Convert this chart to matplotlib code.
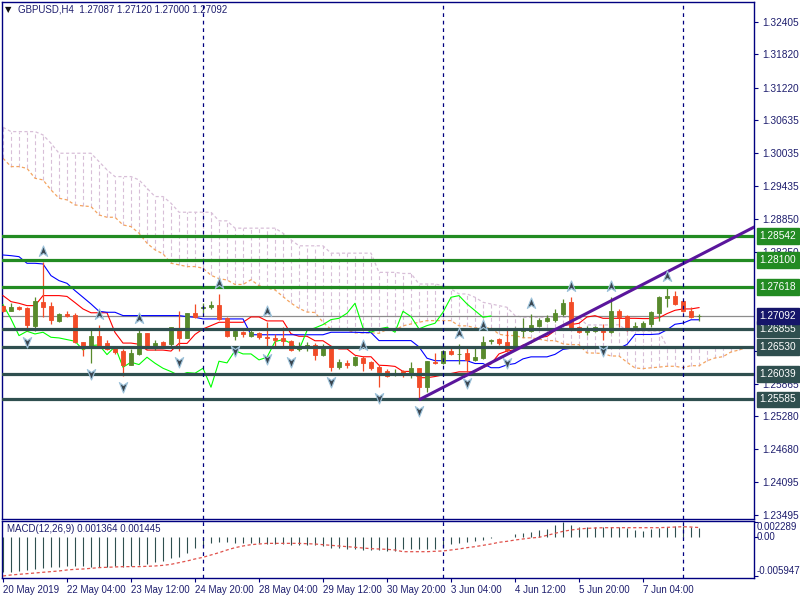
import numpy as np
import matplotlib
matplotlib.use("Agg")
import matplotlib.pyplot as plt
from matplotlib.path import Path
from matplotlib import transforms

# ---------------- data ----------------
symbol_title = "GBPUSD,H4"
last_ohlc = ["1.27087", "1.27120", "1.27000", "1.27092"]

opens = [1.27279, 1.27189, 1.27261, 1.27231, 1.26912, 1.27351, 1.27279, 1.27008, 1.27135, 1.27117,
         1.26617, 1.26527, 1.26737, 1.26599, 1.26527, 1.26454, 1.26214, 1.26406, 1.26779, 1.26539,
         1.26617, 1.26587, 1.26876, 1.26695, 1.27141, 1.27231, 1.27249, 1.27297, 1.27056, 1.26737,
         1.26798, 1.26737, 1.26785, 1.26719, 1.26695, 1.26689, 1.26647, 1.26490, 1.26539, 1.26575,
         1.26394, 1.26539, 1.26165, 1.26238, 1.26214, 1.26334, 1.26256, 1.26165, 1.26105, 1.26033,
         1.26093, 1.26045, 1.26147, 1.25804, 1.26256, 1.26238, 1.26466, 1.26400, 1.26418, 1.26298,
         1.26334, 1.26635, 1.26677, 1.26617, 1.26497, 1.26816, 1.26828, 1.26918, 1.27008, 1.27026,
         1.27129, 1.27339, 1.26900, 1.26798, 1.26828, 1.26876, 1.26798, 1.27189, 1.27099, 1.26888,
         1.26900, 1.26948, 1.27141, 1.27418, 1.27460, 1.27369, 1.27189, 1.27087]
highs = [1.27297, 1.27321, 1.27273, 1.27249, 1.27442, 1.28062, 1.27351, 1.27141, 1.27189, 1.27147,
         1.26629, 1.26876, 1.26936, 1.26659, 1.26545, 1.26497, 1.26497, 1.26858, 1.26790, 1.26659,
         1.26647, 1.26900, 1.27177, 1.27147, 1.27309, 1.27321, 1.27369, 1.27490, 1.27080, 1.26840,
         1.26828, 1.26840, 1.26798, 1.26990, 1.26767, 1.26888, 1.26659, 1.26617, 1.26617, 1.26599,
         1.26587, 1.26557, 1.26316, 1.26298, 1.26360, 1.26376, 1.26286, 1.26214, 1.26135, 1.26135,
         1.26117, 1.26256, 1.26153, 1.26286, 1.26418, 1.26478, 1.26527, 1.26587, 1.26515, 1.26505,
         1.26737, 1.26677, 1.26695, 1.26840, 1.26888, 1.27056, 1.27129, 1.27056, 1.27117, 1.27219,
         1.27400, 1.27440, 1.26918, 1.26918, 1.26918, 1.26948, 1.27430, 1.27219, 1.27105, 1.26990,
         1.27008, 1.27189, 1.27460, 1.27610, 1.27538, 1.27375, 1.27261, 1.27120]
lows = [1.27165, 1.27177, 1.27201, 1.26828, 1.26828, 1.27068, 1.26948, 1.26978, 1.27080, 1.26605,
        1.26376, 1.26238, 1.26539, 1.26478, 1.26406, 1.26015, 1.26208, 1.26394, 1.26497, 1.26478,
        1.26557, 1.26557, 1.26466, 1.26689, 1.27056, 1.27141, 1.27219, 1.27020, 1.26719, 1.26659,
        1.26707, 1.26707, 1.26677, 1.26515, 1.26527, 1.26557, 1.26460, 1.26466, 1.26466, 1.26298,
        1.26376, 1.26105, 1.26135, 1.26153, 1.26196, 1.26093, 1.26117, 1.25804, 1.25985, 1.26015,
        1.25985, 1.25973, 1.25577, 1.25714, 1.26226, 1.26226, 1.26394, 1.26226, 1.26075, 1.26274,
        1.26316, 1.26587, 1.26575, 1.26436, 1.26478, 1.26707, 1.26798, 1.26888, 1.26978, 1.26978,
        1.27099, 1.26858, 1.26779, 1.26755, 1.26798, 1.26659, 1.26779, 1.26900, 1.26828, 1.26876,
        1.26876, 1.26900, 1.26996, 1.27249, 1.27297, 1.27159, 1.27056, 1.27000]
closes = [1.27177, 1.27261, 1.27213, 1.26930, 1.27357, 1.27261, 1.27020, 1.27135, 1.27099, 1.26617,
          1.26527, 1.26737, 1.26557, 1.26497, 1.26436, 1.26214, 1.26418, 1.26779, 1.26539, 1.26599,
          1.26575, 1.26888, 1.26695, 1.27141, 1.27068, 1.27261, 1.27297, 1.27038, 1.26737, 1.26816,
          1.26767, 1.26798, 1.26707, 1.26695, 1.26665, 1.26635, 1.26478, 1.26557, 1.26569, 1.26394,
          1.26539, 1.26165, 1.26256, 1.26214, 1.26346, 1.26238, 1.26147, 1.26087, 1.26015, 1.26069,
          1.26057, 1.26147, 1.25804, 1.26274, 1.26244, 1.26466, 1.26406, 1.26406, 1.26298, 1.26346,
          1.26629, 1.26665, 1.26599, 1.26478, 1.26828, 1.26876, 1.26936, 1.27026, 1.27050, 1.27141,
          1.27321, 1.26876, 1.26798, 1.26858, 1.26888, 1.26798, 1.27177, 1.27080, 1.26858, 1.26918,
          1.26960, 1.27159, 1.27430, 1.27460, 1.27309, 1.27189, 1.27068, 1.27092]

# Ichimoku values visible at the left edge (their history is off-chart)
tenkan_head = [1.27460, 1.27351, 1.27321, 1.27279, 1.27279, 1.27460, 1.27460, 1.27460]
kijun_head = [1.28194, 1.28182, 1.28164, 1.28044, 1.28044, 1.28032, 1.27821, 1.27731, 1.27682, 1.27550,
              1.27430, 1.27309, 1.27177, 1.27159, 1.27159, 1.27099, 1.27099, 1.27099, 1.27099, 1.27099,
              1.27099, 1.27099, 1.27099, 1.27080, 1.27068]
span_a_head = [1.29942, 1.29792, 1.29792, 1.29760, 1.29581, 1.29551, 1.29370, 1.29220, 1.29190, 1.29099,
               1.29081, 1.29069, 1.28918, 1.28876, 1.28876, 1.28737, 1.28707, 1.28588, 1.28407, 1.28287,
               1.28215, 1.28046, 1.28016, 1.27985, 1.27985, 1.27955]
span_b_head = [1.30502, 1.30424, 1.30424, 1.30424, 1.30424, 1.30364, 1.30213, 1.30033, 1.30033, 1.30033,
               1.30033, 1.30033, 1.29882, 1.29732, 1.29611, 1.29611, 1.29611, 1.29551, 1.29401, 1.29250,
               1.29250, 1.29130, 1.28967, 1.28967, 1.28967, 1.28967, 1.28967, 1.28811, 1.28811, 1.28679,
               1.28679, 1.28679, 1.28679, 1.28679, 1.28679, 1.28588, 1.28468, 1.28360, 1.28360, 1.28360,
               1.28360, 1.28227, 1.28227, 1.28227, 1.28227, 1.28227, 1.28227, 1.27880, 1.27880, 1.27880,
               1.27860, 1.27860, 1.27670, 1.27670, 1.27670, 1.27640, 1.27580, 1.27490, 1.27490, 1.27430,
               1.27339, 1.27309, 1.27279, 1.27249, 1.27099, 1.27068, 1.27068, 1.27068, 1.27068, 1.27068,
               1.27068, 1.27068, 1.27068, 1.26930, 1.26930, 1.26930, 1.26930]

up_fractals = [5, 12, 17, 27, 33, 45, 57, 60, 66, 71, 76, 83]
down_fractals = [3, 11, 15, 22, 29, 33, 36, 41, 47, 52, 58, 63, 75]

macd_hist = [-0.005380, -0.00528, -0.00518, -0.00503, -0.00493, -0.00478, -0.00462, -0.00452, -0.00442, -0.00437,
             -0.00442, -0.00452, -0.00452, -0.00452, -0.00442, -0.00452, -0.00437, -0.00427, -0.00411, -0.00386,
             -0.00361, -0.00325, -0.00300, -0.00239, -0.00173, -0.00132, -0.00097, -0.00081, -0.00081, -0.00097,
             -0.00097, -0.00097, -0.00097, -0.00112, -0.00112, -0.00112, -0.00122, -0.00122, -0.00122, -0.00122,
             -0.00137, -0.00173, -0.00173, -0.00183, -0.00188, -0.00198, -0.00198, -0.00198, -0.00213, -0.00213,
             -0.00183, -0.00183, -0.00183, -0.00183, -0.00183, -0.00147, -0.00112, -0.00097, -0.00081, -0.00061,
             -0.00046, -0.00020, -0.00005, 0.00005, 0.00041, 0.00056, 0.00081, 0.00107, 0.00122, 0.00190,
             0.002289, 0.00183, 0.00157, 0.00147, 0.00147, 0.00147, 0.00147, 0.00147, 0.00132, 0.00107,
             0.00097, 0.00122, 0.00132, 0.00157, 0.00173, 0.00173, 0.00157, 0.001364]
macd_signal = [-0.005947, -0.00579, -0.00569, -0.00559, -0.00549, -0.00538, -0.00528, -0.00518, -0.00503, -0.00493,
               -0.00488, -0.00478, -0.00467, -0.00462, -0.00457, -0.00452, -0.00452, -0.00452, -0.00447, -0.00442,
               -0.00432, -0.00417, -0.00391, -0.00366, -0.00335, -0.00310, -0.00274, -0.00239, -0.00198, -0.00163,
               -0.00137, -0.00117, -0.00107, -0.00097, -0.00097, -0.00097, -0.00097, -0.00097, -0.00102, -0.00107,
               -0.00117, -0.00127, -0.00137, -0.00147, -0.00157, -0.00168, -0.00178, -0.00183, -0.00188, -0.00198,
               -0.00224, -0.00224, -0.00224, -0.00224, -0.00218, -0.00213, -0.00198, -0.00183, -0.00163, -0.00147,
               -0.00127, -0.00107, -0.00081, -0.00066, -0.00046, -0.00030, -0.00015, -0.00005, 0.00025, 0.00056,
               0.00086, 0.00107, 0.00122, 0.00132, 0.00137, 0.00142, 0.00142, 0.00142, 0.00142, 0.00142,
               0.00142, 0.00142, 0.00142, 0.00147, 0.00152, 0.00157, 0.00152, 0.001445]

green_levels = [1.28542, 1.28100, 1.27618]
slate_levels = [1.26855, 1.26530, 1.26039, 1.25585]
current_price = 1.27092

trend_p1 = (52, 1.25577)
trend_p2 = (88, 1.28260)

separators = [25, 55, 85]
date_tick_bars = [0, 8, 16, 24, 32, 40, 48, 56, 64, 72, 80]
date_labels = ["20 May 2019", "22 May 04:00", "23 May 12:00", "24 May 20:00", "28 May 04:00",
               "29 May 12:00", "30 May 20:00", "3 Jun 04:00", "4 Jun 12:00", "5 Jun 20:00", "7 Jun 04:00"]
price_ticks = [1.32405, 1.31820, 1.31220, 1.30635, 1.30035, 1.29435, 1.28850, 1.28250,
               1.26465, 1.25865, 1.25280, 1.24680, 1.24095, 1.23495]
macd_ticks = [0.002289, 0.0, -0.005947]
macd_tick_labels = ["0.002289", "0.00", "-0.005947"]

# ---------------- styling ----------------
FS = 7.0
FSP = 7.3
NAVY = "#000080"
TXT = "#1e1e6e"
C_UP = "#588A2C"
C_DN = "#F24B27"
C_GREEN = "#228B22"
C_SLATE = "#2F4F4F"
C_SANDY = "#F4A460"
C_THISTLE = "#D8BFD8"

plt.rcParams["font.family"] = ["Liberation Sans", "DejaVu Sans"]

W, H = 800, 600
fig = plt.figure(figsize=(8, 6), dpi=100)
fig.patch.set_facecolor("white")
ax = fig.add_axes([2 / W, 1 - 519 / H, 752 / W, 517 / H])
axm = fig.add_axes([2 / W, 1 - 578 / H, 752 / W, 57 / H])

n = len(closes)
hi = np.array(highs)
lo = np.array(lows)
op = np.array(opens)
cl = np.array(closes)
xs = np.arange(n)


def hl_mid(a, b):
    return (hi[a:b + 1].max() + lo[a:b + 1].min()) / 2


tenkan = np.array(tenkan_head + [hl_mid(i - 8, i) for i in range(len(tenkan_head), n)])
kijun = np.array(kijun_head + [hl_mid(i - 25, i) for i in range(len(kijun_head), n)])
m = n + 26
span_a = np.array(span_a_head + [(tenkan[j - 26] + kijun[j - 26]) / 2 for j in range(len(span_a_head), m)])
span_b = np.array(span_b_head + [hl_mid(j - 77, j - 26) for j in range(len(span_b_head), m)])
xm = np.arange(m)

# cloud hatch (vertical dashed lines)
for j in range(m):
    a, b = span_a[j], span_b[j]
    col = C_THISTLE if b >= a else C_SANDY
    ax.vlines(j, min(a, b), max(a, b), colors=col, linestyles=(0, (3.5, 2.5)), lw=0.8, zorder=1)
ax.plot(xm, span_a, color=C_SANDY, lw=0.9, ls=(0, (2.5, 2)), zorder=1.5)
ax.plot(xm, span_b, color=C_THISTLE, lw=0.9, ls=(0, (2.5, 2)), zorder=1.5)

# current price line
ax.axhline(current_price, color="#8c8c8c", lw=0.9, zorder=2)

# Ichimoku lines
ax.plot(xs, tenkan, color="#FF0000", lw=0.8, zorder=3)
ax.plot(xs, kijun, color="#0000FF", lw=0.8, zorder=3)
ax.plot(xs[:n - 26], cl[26:], color="#00FF00", lw=0.8, zorder=3)

# candles
colors = [C_UP if c >= o else C_DN for o, c in zip(op, cl)]
ax.vlines(xs, lo, hi, colors=colors, lw=0.9, zorder=4)
body_lo = np.minimum(op, cl)
body_h = np.abs(cl - op)
ax.bar(xs, body_h, bottom=body_lo, width=0.62, color=colors, edgecolor=colors, lw=0.6, zorder=4.5)

# horizontal levels
for lv in green_levels:
    ax.axhline(lv, color=C_GREEN, lw=2.3, zorder=6)
for lv in slate_levels:
    ax.axhline(lv, color=C_SLATE, lw=2.3, zorder=6)

# trend line
slope = (trend_p2[1] - trend_p1[1]) / (trend_p2[0] - trend_p1[0])
tx = np.array([trend_p1[0], 96])
ax.plot(tx, trend_p1[1] + slope * (tx - trend_p1[0]), color="#5A169C", lw=2.2, zorder=7,
        solid_capstyle="butt")

# fractal arrows
up_arrow = Path([(0, 1), (0.75, -0.9), (0, -0.35), (-0.75, -0.9), (0, 1)],
                [Path.MOVETO, Path.LINETO, Path.LINETO, Path.LINETO, Path.CLOSEPOLY])
dn_arrow = Path([(0, -1), (0.75, 0.9), (0, 0.35), (-0.75, 0.9), (0, -1)],
                [Path.MOVETO, Path.LINETO, Path.LINETO, Path.LINETO, Path.CLOSEPOLY])
t_up = transforms.offset_copy(ax.transData, fig=fig, x=0, y=11, units="dots")
t_dn = transforms.offset_copy(ax.transData, fig=fig, x=0, y=-11, units="dots")
ax.plot(up_fractals, hi[up_fractals], ls="none", marker=up_arrow, ms=8, mfc="#3a4650",
        mec="#9fc4dc", mew=0.8, transform=t_up, zorder=8, clip_on=False)
ax.plot(down_fractals, lo[down_fractals], ls="none", marker=dn_arrow, ms=8, mfc="#3a4650",
        mec="#9fc4dc", mew=0.8, transform=t_dn, zorder=8, clip_on=False)

# separators
for s in separators:
    ax.axvline(s, color=NAVY, lw=0.9, ls=(0, (3, 3)), zorder=9)
    axm.axvline(s, color=NAVY, lw=0.9, ls=(0, (3, 3)), zorder=9)

# axes limits and ticks (main)
px_per = 5533.0
ax.set_xlim(-0.125, 93.875)
ax.set_ylim(1.32405 - (519 - 22) / px_per, 1.32405 + 20 / px_per)
ax.set_xticks([])
ax.yaxis.tick_right()
ax.set_yticks(price_ticks)
ax.set_yticklabels([f"{p:.5f}" for p in price_ticks])
ax.tick_params(axis="y", direction="out", length=3, width=0.8, colors=NAVY, labelcolor=TXT,
               labelsize=FSP, pad=3)
for sp in ax.spines.values():
    sp.set_color(NAVY)
    sp.set_linewidth(1.0)

# price label boxes
btr = transforms.blended_transform_factory(ax.transAxes, ax.transData)


def price_box(lv, col):
    ax.text(1.0075, lv, f"{lv:.5f}", transform=btr, color="white", fontsize=FSP, va="center",
            ha="left", clip_on=False, zorder=20,
            bbox=dict(boxstyle="square,pad=0.28", fc=col, ec=col))


for lv in green_levels:
    price_box(lv, C_GREEN)
for lv in slate_levels:
    price_box(lv, C_SLATE)
price_box(current_price, "#15156a")

# header
fig.text(5 / W, 1 - 10 / H, "\u25BC", fontsize=6, color="#111111", va="center", ha="left",
         family="DejaVu Sans")
fig.text(18 / W, 1 - 10 / H, symbol_title + "  " + " ".join(last_ohlc), fontsize=FS,
         color=TXT, va="center", ha="left")

# MACD panel
axm.vlines(xs, 0, macd_hist, colors=C_SLATE, lw=0.8, zorder=3)
axm.plot(xs, macd_signal, color="#E0524C", lw=0.9, ls=(0, (2.5, 2)), zorder=4)
kpx = 6557.0
axm.set_xlim(-0.125, 93.875)
axm.set_ylim((537 - 578) / kpx, (537 - 521) / kpx)
axm.yaxis.tick_right()
axm.set_yticks(macd_ticks)
axm.set_yticklabels([])
axm.tick_params(axis="y", direction="out", length=3, width=0.8, colors=NAVY)
mtr = transforms.blended_transform_factory(axm.transAxes, axm.transData)
vas = ["top", "center", "bottom"]
for v, lab, va in zip(macd_ticks, macd_tick_labels, vas):
    axm.text(1.0035, v, lab, transform=mtr, fontsize=FS, color=TXT, va=va, ha="left",
             clip_on=False)
axm.set_xticks(date_tick_bars)
axm.set_xticklabels(date_labels, ha="left")
axm.tick_params(axis="x", direction="out", length=3, width=0.8, colors=NAVY, labelcolor=TXT,
                labelsize=FS, pad=2)
for sp in axm.spines.values():
    sp.set_color(NAVY)
    sp.set_linewidth(1.0)
axm.text(5 / 752, 1 - 8 / 57, "MACD(12,26,9) 0.001364 0.001445", transform=axm.transAxes,
         fontsize=FS, color=TXT, va="center", ha="left", zorder=10)

fig.savefig("out.png", dpi=100, facecolor="white")
